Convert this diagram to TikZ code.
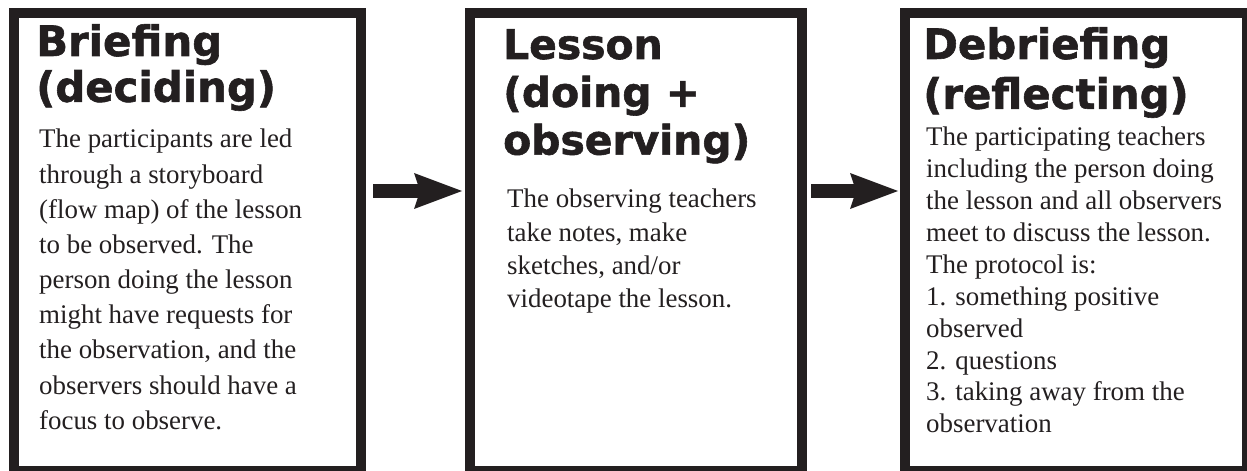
\documentclass[tikz,border=0pt]{standalone}
\usepackage{fontspec}
\setmainfont{Liberation Serif}
\newfontfamily\headfont{DejaVu Sans}[BoldFeatures={FakeBold=1.4}]
\usetikzlibrary{positioning,arrows.meta}
\definecolor{ink}{HTML}{231F20}

\begin{document}
\begin{tikzpicture}[x=1bp, y=-1bp,
    stage/.style={draw=ink, line width=10.5bp, rectangle, outer sep=0pt, inner sep=0pt, minimum height=458bp},
    title/.style={anchor=north west, inner sep=0pt, align=left, text=ink, font=\headfont\bfseries\fontsize{42}{46}\selectfont},
    body/.style={anchor=north west, inner sep=0pt, align=left, text=ink, font=\fontsize{27}{35.3}\selectfont},
    flow/.style={draw=ink, line width=14bp, -{Stealth[length=48bp, width=36bp, inset=6bp, line width=0pt]}}]
    \useasboundingbox (0,0) rectangle (1247,471);
    \clip (0,0) rectangle (1247,471);

    \node (Briefing) [stage, minimum width=347bp, anchor=north west] at (14,13) {};
    \node (Lesson) [stage, minimum width=332bp, right=109bp of Briefing] {};
    \node (Debriefing) [stage, minimum width=342bp, right=103bp of Lesson] {};

    \node (BriefingTitle) [title] at ([shift={(22,11)}]Briefing.north west)
    {
        Briefing\\
        (deciding)
    };
    \node (BriefingText) [body] at ([shift={(25,116)}]Briefing.north west)
    {
        The participants are led\\
        through a storyboard\\
        (flow map) of the lesson\\
        to be observed. The\\
        person doing the lesson\\
        might have requests for\\
        the observation, and the\\
        observers should have a\\
        focus to observe.
    };

    \node (LessonTitle) [title, font=\headfont\bfseries\fontsize{41}{48}\selectfont] at ([shift={(33,16)}]Lesson.north west)
    {
        Lesson\\
        (doing +\\
        observing)
    };
    \node (LessonText) [body, font=\fontsize{27}{33.5}\selectfont] at ([shift={(37,176)}]Lesson.north west)
    {
        The observing teachers\\
        take notes, make\\
        sketches, and/or\\
        videotape the lesson.
    };

    \node (DebriefingTitle) [title, font=\headfont\bfseries\fontsize{42}{50}\selectfont] at ([shift={(18,14)}]Debriefing.north west)
    {
        Debriefing\\
        (reflecting)
    };
    \node (DebriefingText) [body, font=\fontsize{27}{32}\selectfont] at ([shift={(21,114)}]Debriefing.north west)
    {
        The participating teachers\\
        including the person doing\\
        the lesson and all observers\\
        meet to discuss the lesson.\\
        The protocol is:\\
        1. something positive\\
        observed\\
        2. questions\\
        3. taking away from the\\
        observation
    };

    \draw[flow, shorten <=12bp, shorten >=8bp] ([yshift=51bp]Briefing.east) -- ([yshift=51bp]Lesson.west);
    \draw[flow, shorten <=9bp, shorten >=7bp] ([yshift=51bp]Lesson.east) -- ([yshift=51bp]Debriefing.west);
\end{tikzpicture}
\end{document}
